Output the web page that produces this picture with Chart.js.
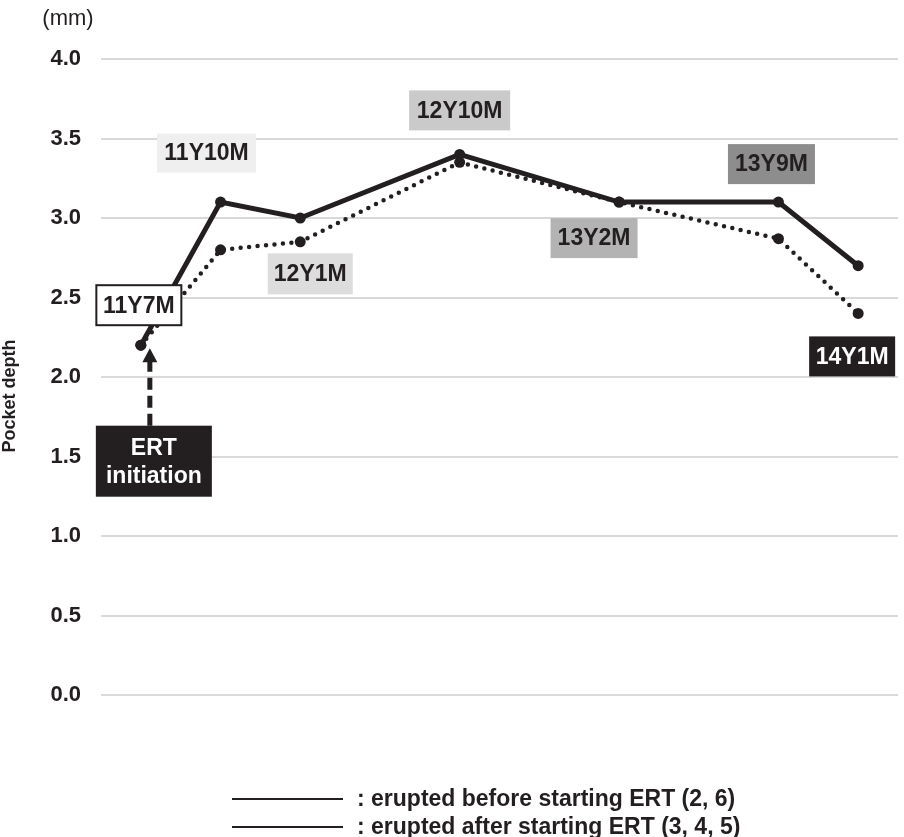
<!DOCTYPE html>
<html>
<head>
<meta charset="utf-8">
<script src="https://cdn.jsdelivr.net/npm/chart.js@4.4.0/dist/chart.umd.min.js"></script>
<style>
  html, body { margin: 0; padding: 0; background: #ffffff; }
  #pocket-chart { display: block; }
</style>
</head>
<body>
<canvas id="pocket-chart" width="904" height="837"></canvas>
<script>
// Ages at each visit, and the slot each visit sits at along the x axis
const visitAges = ["11Y7M", "11Y10M", "12Y1M", "12Y10M", "13Y2M", "13Y9M", "14Y1M"];
const visitSlots = [0, 1, 2, 4, 6, 8, 9];

// Pocket depth (mm)
const eruptedBefore = [2.2, 3.1, 3.0, 3.4, 3.1, 3.1, 2.7];
const eruptedAfter = [2.2, 2.8, 2.85, 3.35, 3.1, 2.87, 2.4];

const seriesNames = ["erupted before starting ERT (2, 6)", "erupted after starting ERT (3, 4, 5)"];
const eventText = ["ERT", "initiation"];

const INK = "#231f20";
const FONT = "'Liberation Sans', Arial, sans-serif";

// look of the age tags, anchored on the upper (max) or lower (min) point of each visit
const tagStyles = [
  { fill: "#ffffff", color: INK, border: true, anchor: "min", dx: -2, dy: -40, w: 85, h: 40 },
  { fill: "#efefef", color: INK, anchor: "max", dx: -14, dy: -49, w: 99, h: 39 },
  { fill: "#dddddd", color: INK, anchor: "min", dx: 10, dy: 32, w: 85, h: 41 },
  { fill: "#cacaca", color: INK, anchor: "max", dx: 0, dy: -44, w: 101, h: 40 },
  { fill: "#b3b3b3", color: INK, anchor: "min", dx: -25, dy: 36, w: 87, h: 40 },
  { fill: "#8d8d8d", color: INK, anchor: "max", dx: -7, dy: -38, w: 87, h: 40 },
  { fill: INK, color: "#ffffff", anchor: "min", dx: -6, dy: 43, w: 86, h: 40 },
];

function pointsOf(values) {
  return values.map((v, i) => ({ x: visitSlots[i], y: v }));
}

const tagPlugin = {
  id: "tags",
  afterDatasetsDraw(chart) {
    const { ctx, scales } = chart;
    const xs = scales.x, ys = scales.y;
    ctx.save();
    ctx.textAlign = "center";
    ctx.textBaseline = "middle";

    // age tags
    ctx.font = "bold 23px " + FONT;
    visitAges.forEach((age, i) => {
      const st = tagStyles[i];
      const v = st.anchor === "max"
        ? Math.max(eruptedBefore[i], eruptedAfter[i])
        : Math.min(eruptedBefore[i], eruptedAfter[i]);
      const cx = xs.getPixelForValue(visitSlots[i]) + st.dx;
      const cy = ys.getPixelForValue(v) + st.dy;
      ctx.fillStyle = st.fill;
      ctx.fillRect(cx - st.w / 2, cy - st.h / 2, st.w, st.h);
      if (st.border) {
        ctx.strokeStyle = INK;
        ctx.lineWidth = 2;
        ctx.strokeRect(cx - st.w / 2, cy - st.h / 2, st.w, st.h);
      }
      ctx.fillStyle = st.color;
      ctx.fillText(age, cx, cy + 1);
    });

    // ERT initiation box + dashed arrow up to the first visit
    const x0 = xs.getPixelForValue(visitSlots[0]);
    const y0 = ys.getPixelForValue(eruptedAfter[0]);
    const bx = x0 + 13, by = y0 + 116;
    ctx.fillStyle = INK;
    ctx.fillRect(bx - 58, by - 35.5, 116, 71);
    ctx.fillStyle = "#ffffff";
    ctx.fillText(eventText[0], bx, by - 13);
    ctx.fillText(eventText[1], bx, by + 15);

    const ax = x0 + 9, tip = y0 + 3;
    ctx.strokeStyle = INK;
    ctx.lineWidth = 5;
    ctx.setLineDash([12, 6]);
    ctx.beginPath();
    ctx.moveTo(ax, by - 35.5);
    ctx.lineTo(ax, tip + 13);
    ctx.stroke();
    ctx.setLineDash([]);
    ctx.fillStyle = INK;
    ctx.beginPath();
    ctx.moveTo(ax, tip);
    ctx.lineTo(ax - 7.5, tip + 14);
    ctx.lineTo(ax + 7.5, tip + 14);
    ctx.closePath();
    ctx.fill();

    // unit
    ctx.font = "22px " + FONT;
    ctx.fillStyle = INK;
    ctx.fillText("(mm)", 68, 19);

    // y axis title, a little below the middle of the plot like the original
    ctx.save();
    ctx.translate(10, ys.getPixelForValue(1.88));
    ctx.rotate(-Math.PI / 2);
    ctx.font = "bold 18px " + FONT;
    ctx.fillText("Pocket depth", 0, 0);
    ctx.restore();

    // legend (both keys drawn as plain lines)
    ctx.font = "bold 23px " + FONT;
    ctx.textAlign = "left";
    seriesNames.forEach((name, i) => {
      const ly = 799 + i * 28;
      ctx.strokeStyle = INK;
      ctx.lineWidth = 2;
      ctx.beginPath();
      ctx.moveTo(232, ly);
      ctx.lineTo(343, ly);
      ctx.stroke();
      ctx.fillText(": " + name, 357, ly + 1);
    });
    ctx.restore();
  },
};

Chart.defaults.font.family = FONT;
Chart.defaults.color = INK;

let ctx_pocket = document.getElementById("pocket-chart").getContext("2d");
let chart_pocket = new Chart(ctx_pocket, {
  type: "line",
  data: {
    datasets: [
      {
        label: seriesNames[0],
        data: pointsOf(eruptedBefore),
        borderColor: INK,
        backgroundColor: INK,
        borderWidth: 5,
        pointRadius: 5.5,
        pointBorderWidth: 0,
        pointBackgroundColor: INK,
        tension: 0,
      },
      {
        label: seriesNames[1],
        data: pointsOf(eruptedAfter),
        borderColor: INK,
        backgroundColor: INK,
        borderWidth: 4.5,
        borderDash: [0, 8.5],
        borderCapStyle: "round",
        pointRadius: 5.5,
        pointBorderWidth: 0,
        pointBackgroundColor: INK,
        tension: 0,
      },
    ],
  },
  options: {
    responsive: false,
    animation: false,
    layout: {
      padding: { top: 59, right: 6, bottom: 142, left: 0 },
    },
    plugins: {
      legend: { display: false },
      tooltip: { enabled: false },
    },
    scales: {
      x: {
        type: "linear",
        min: -0.5,
        max: 9.5,
        display: false,
      },
      y: {
        min: 0,
        max: 4,
        afterFit: (scale) => {
          scale.width = 101;
        },
        ticks: {
          stepSize: 0.5,
          padding: 20,
          font: { size: 22, weight: "bold" },
          color: INK,
          callback: (v) => v.toFixed(1),
        },
        grid: {
          color: "#d9d9d9",
          lineWidth: 2,
          drawTicks: false,
        },
        border: { display: false },
      },
    },
  },
  plugins: [tagPlugin],
});
</script>
</body>
</html>
